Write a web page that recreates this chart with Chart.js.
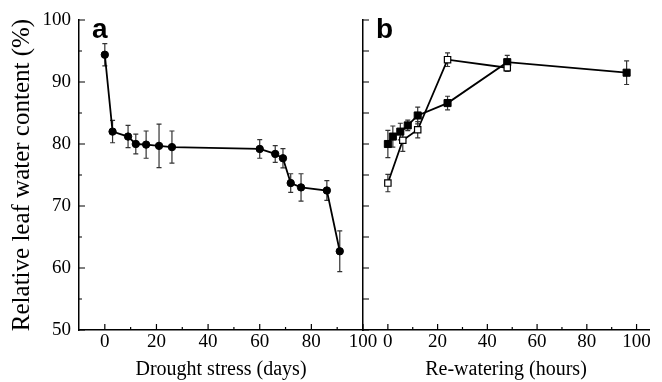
<!DOCTYPE html>
<html>
<head>
<meta charset="utf-8">
<script src="https://cdn.jsdelivr.net/npm/chart.js@4.4.1/dist/chart.umd.min.js"></script>
<style>
  html, body { margin: 0; padding: 0; background: #fff; }
  #wrap { position: relative; width: 662px; height: 382px; overflow: hidden; }
  #wrap canvas { position: absolute; top: 0; }
  #chartA { left: 0; }
  #chartB { left: 284px; }
</style>
</head>
<body>
<div id="wrap">
  <canvas id="chartA" width="390" height="382"></canvas>
  <canvas id="chartB" width="378" height="382"></canvas>
</div>
<script>
// painel a: estresse hídrico (dias)
const droughtDays = [0, 3, 9, 12, 16, 21, 26, 60, 66, 69, 72, 76, 86, 91];
const droughtRwc = [94.4, 82.0, 81.2, 80.0, 79.9, 79.7, 79.5, 79.2, 78.4, 77.7, 73.7, 73.0, 72.5, 62.7];
const droughtErr = [1.8, 1.8, 1.8, 1.6, 2.2, 3.5, 2.6, 1.5, 1.35, 1.55, 1.5, 2.2, 1.6, 3.3];

// painel b: reidratação (horas) - quadrados abertos
const openHours = [0, 6, 12, 24, 48];
const openRwc = [73.7, 80.6, 82.3, 93.6, 92.3];
const openErr = [1.4, 1.8, 1.3, 1.1, 0.6];

// painel b: quadrados cheios
const filledHours = [0, 2, 5, 8, 12, 24, 48, 96];
const filledRwc = [80.0, 81.2, 82.0, 83.0, 84.6, 86.6, 93.2, 91.5];
const filledErr = [2.2, 1.7, 1.35, 0.85, 1.35, 1.1, 1.1, 1.9];

// ticks
const xTicks = [0, 10, 20, 30, 40, 50, 60, 70, 80, 90, 100];
const xLabels = [0, 20, 40, 60, 80, 100];
const yTicks = [50, 55, 60, 65, 70, 75, 80, 85, 90, 95, 100];
const yLabels = [50, 60, 70, 80, 90, 100];

const serif = '"Liberation Serif", "Times New Roman", serif';

const toPoints = (xs, ys) => xs.map((x, i) => ({ x: x, y: ys[i] }));

// barras de erro, marcas de escala para dentro e letra do painel
const panelDecor = {
    id: 'panelDecor',
    beforeDatasetsDraw(chart) {
        const ctx = chart.ctx;
        const xs = chart.scales.x, ys = chart.scales.y;
        chart.data.datasets.forEach(ds => {
            if (!ds.errors) return;
            ctx.save();
            ctx.strokeStyle = '#333';
            ctx.lineWidth = 1.2;
            ds.data.forEach((p, i) => {
                const e = ds.errors[i];
                const x = xs.getPixelForValue(p.x);
                const yt = ys.getPixelForValue(p.y + e);
                const yb = ys.getPixelForValue(p.y - e);
                ctx.beginPath();
                ctx.moveTo(x, yt); ctx.lineTo(x, yb);
                ctx.moveTo(x - 2.5, yt); ctx.lineTo(x + 2.5, yt);
                ctx.moveTo(x - 2.5, yb); ctx.lineTo(x + 2.5, yb);
                ctx.stroke();
            });
            ctx.restore();
        });
    },
    afterDraw(chart, args, opts) {
        const ctx = chart.ctx;
        const area = chart.chartArea;
        const xs = chart.scales.x, ys = chart.scales.y;
        ctx.save();
        ctx.strokeStyle = '#000';
        ctx.lineWidth = 1.2;
        ctx.beginPath();
        xs.ticks.forEach(t => {
            const px = xs.getPixelForValue(t.value);
            const len = xLabels.includes(t.value) ? 6 : 3;
            ctx.moveTo(px, area.bottom); ctx.lineTo(px, area.bottom - len);
        });
        ys.ticks.forEach(t => {
            const py = ys.getPixelForValue(t.value);
            const len = (opts.allMajorY || yLabels.includes(t.value)) ? 6 : 3;
            ctx.moveTo(area.left, py); ctx.lineTo(area.left + len, py);
        });
        ctx.stroke();
        ctx.fillStyle = '#000';
        ctx.font = 'bold 28px "Liberation Sans", Arial, sans-serif';
        ctx.textBaseline = 'alphabetic';
        ctx.fillText(opts.letter, area.left + 13, area.top + 17.5);
        ctx.restore();
    }
};

function makeOptions(xMax, showY, xTitle, letter, allMajorY) {
    return {
        responsive: false,
        animation: false,
        layout: { padding: { left: 0, top: 20, right: xMax === 100 ? 27 : 13, bottom: 0 } },
        plugins: {
            legend: { display: false },
            tooltip: { enabled: false },
            panelDecor: { letter: letter, allMajorY: allMajorY }
        },
        scales: {
            x: {
                type: 'linear', min: -10, max: xMax,
                afterBuildTicks: s => { s.ticks = xTicks.map(v => ({ value: v })); },
                afterFit: s => { s.height = 52; s.paddingLeft = 0; s.paddingRight = 0; },
                grid: { display: true, drawOnChartArea: false, drawTicks: false, color: 'rgba(0,0,0,0)' },
                border: { display: true, color: '#000', width: 1.5 },
                ticks: {
                    autoSkip: false, maxRotation: 0, padding: 1, color: '#000',
                    font: { family: serif, size: 19 },
                    callback: v => xLabels.includes(v) ? String(v) : ''
                },
                title: {
                    display: true, text: xTitle, color: '#000',
                    font: { family: serif, size: 20 },
                    padding: { top: 0, bottom: 0 }
                }
            },
            y: {
                type: 'linear', min: 50, max: 100,
                afterBuildTicks: s => { s.ticks = yTicks.map(v => ({ value: v })); },
                afterFit: s => { s.width = 79; s.paddingTop = 0; s.paddingBottom = 0; },
                grid: { display: true, drawOnChartArea: false, drawTicks: false, color: 'rgba(0,0,0,0)' },
                border: { display: true, color: '#000', width: 1.5 },
                ticks: {
                    display: showY, autoSkip: false, padding: 8, color: '#000',
                    font: { family: serif, size: 19 },
                    callback: v => yLabels.includes(v) ? String(v) : ''
                },
                title: {
                    display: showY, text: 'Relative leaf water content (%)', color: '#000',
                    font: { family: serif, size: 25 },
                    padding: { top: 7, bottom: 0 }
                }
            }
        }
    };
}

new Chart(document.getElementById('chartA'), {
    type: 'scatter',
    data: {
        datasets: [{
            data: toPoints(droughtDays, droughtRwc),
            errors: droughtErr,
            showLine: true,
            borderColor: '#000',
            borderWidth: 1.8,
            tension: 0,
            pointStyle: 'circle',
            pointRadius: 3.7,
            pointBackgroundColor: '#000',
            pointBorderColor: '#000',
            pointBorderWidth: 1
        }]
    },
    options: makeOptions(100, true, 'Drought stress (days)', 'a', false),
    plugins: [panelDecor]
});

new Chart(document.getElementById('chartB'), {
    type: 'scatter',
    data: {
        datasets: [{
            data: toPoints(openHours, openRwc),
            errors: openErr,
            showLine: true,
            borderColor: '#000',
            borderWidth: 1.8,
            tension: 0,
            pointStyle: 'rect',
            pointRadius: 4.5,
            pointBackgroundColor: '#fff',
            pointBorderColor: '#000',
            pointBorderWidth: 1.2
        }, {
            data: toPoints(filledHours, filledRwc),
            errors: filledErr,
            showLine: true,
            borderColor: '#000',
            borderWidth: 1.8,
            tension: 0,
            pointStyle: 'rect',
            pointRadius: 5,
            pointBackgroundColor: '#000',
            pointBorderColor: '#000',
            pointBorderWidth: 1
        }]
    },
    options: makeOptions(105, false, 'Re-watering (hours)', 'b', true),
    plugins: [panelDecor]
});
</script>
</body>
</html>
